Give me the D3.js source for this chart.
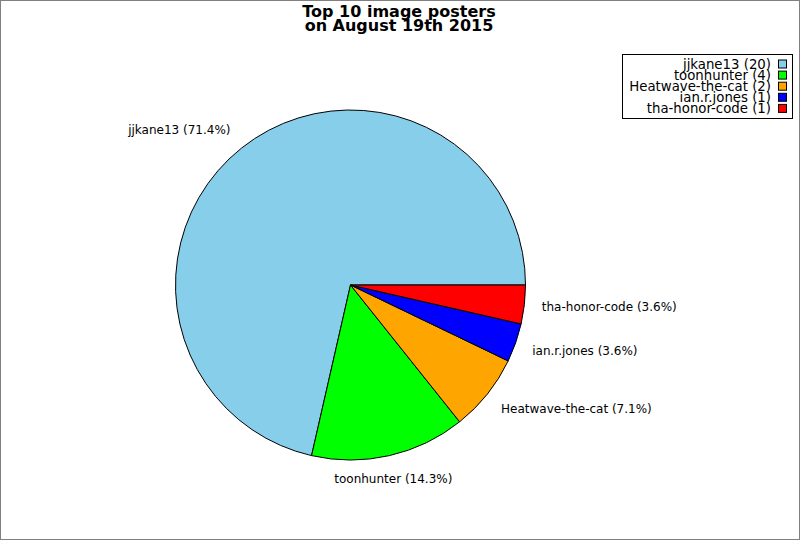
<!DOCTYPE html>
<html>
<head>
<meta charset="utf-8">
<script src="https://cdn.jsdelivr.net/npm/d3@7"></script>
<style>
  body { margin: 0; background: #fff; }
  text { font-family: "DejaVu Sans", sans-serif; }
</style>
</head>
<body>
<script>
// data
var names = ["jjkane13", "toonhunter", "Heatwave-the-cat", "ian.r.jones", "tha-honor-code"];
var counts = [20, 4, 2, 1, 1];
var colors = ["#87ceeb", "#00ff00", "#ffa500", "#0000ff", "#ff0000"];
var titleLines = ["Top 10 image posters", "on August 19th 2015"];

var width = 800, height = 540;
var cx = 350.5, cy = 285, r = 175;
var total = d3.sum(counts);

var svg = d3.select("body").append("svg")
    .attr("width", width)
    .attr("height", height);

// figure frame
svg.append("rect")
    .attr("x", 0.5).attr("y", 0.5)
    .attr("width", width - 1).attr("height", height - 1)
    .attr("fill", "#fff")
    .attr("stroke", "#808080");

// title
svg.append("text")
    .attr("text-anchor", "middle")
    .style("font-size", "16px").style("font-weight", "bold")
    .selectAll("tspan")
    .data(titleLines)
    .enter().append("tspan")
    .attr("x", 399)
    .attr("y", function(d, i) { return 17 + i * 14; })
    .text(function(d) { return d; });

// pie, counterclockwise from 3 o'clock
var pie = d3.pie().sort(null)
    .startAngle(Math.PI / 2)
    .endAngle(Math.PI / 2 - 2 * Math.PI);
var arcs = pie(counts);
var arc = d3.arc().innerRadius(0).outerRadius(r);

var g = svg.append("g").attr("transform", "translate(" + cx + "," + cy + ")");

g.selectAll("path")
    .data(arcs)
    .enter().append("path")
    .attr("d", arc)
    .attr("fill", function(d, i) { return colors[i]; })
    .attr("stroke", "#000")
    .attr("stroke-width", 1)
    .attr("stroke-linejoin", "round");

// labels just outside the rim
g.selectAll("text.lbl")
    .data(arcs)
    .enter().append("text")
    .attr("class", "lbl")
    .each(function(d, i) {
      var a = (d.startAngle + d.endAngle) / 2; // 0 at top, clockwise
      var ux = Math.sin(a), uy = -Math.cos(a);
      var x = ux * r * 1.1;
      var y = uy * r * 1.1 + uy * 6;
      var anchor = Math.abs(ux) < 0.3 ? "middle" : (ux < 0 ? "end" : "start");
      d3.select(this)
        .attr("x", x).attr("y", y)
        .attr("dy", "0.35em")
        .attr("text-anchor", anchor)
        .style("font-size", "12px")
        .text(names[i] + " (" + (counts[i] / total * 100).toFixed(1) + "%)");
    });

// legend
var lx = 622.5, ly = 54.5, lw = 170, lh = 64;
var legend = svg.append("g");
legend.append("rect")
    .attr("x", lx).attr("y", ly)
    .attr("width", lw).attr("height", lh)
    .attr("fill", "#fff").attr("stroke", "#000");

var rows = legend.selectAll("g.row")
    .data(names)
    .enter().append("g")
    .attr("class", "row")
    .attr("transform", function(d, i) { return "translate(0," + (ly + 9.5 + i * 11.1) + ")"; });

rows.append("text")
    .attr("x", 771).attr("y", 0)
    .attr("dy", "0.35em")
    .attr("text-anchor", "end")
    .style("font-size", "13.3px")
    .text(function(d, i) { return d + " (" + counts[i] + ")"; });

rows.append("rect")
    .attr("x", 778.5).attr("y", -4)
    .attr("width", 8).attr("height", 8)
    .attr("fill", function(d, i) { return colors[i]; })
    .attr("stroke", "#000");
</script>
</body>
</html>
